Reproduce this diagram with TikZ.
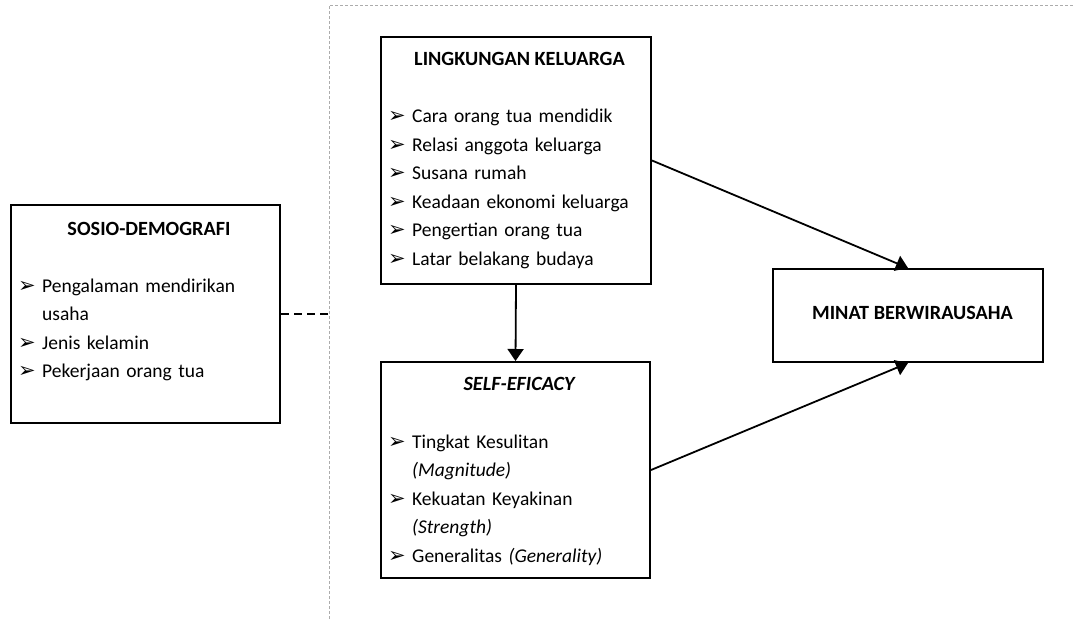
\documentclass[tikz,border=0pt]{standalone}
\usepackage{fontspec}
\setmainfont{Carlito}
\newfontfamily\dejavu{DejaVu Sans}
\usetikzlibrary{arrows.meta, positioning}

\newcommand{\bul}{{\dejavu\fontsize{21}{21}\selectfont ➢}}
\newcommand{\butir}[1]{\hangindent=24pt\hangafter=1\noindent\makebox[24pt][l]{\bul}#1\par}

\tikzset{
  kotak/.style={draw, line width=2pt, rectangle, inner sep=0pt},
  judul/.style={font=\fontsize{20.2}{22}\selectfont\bfseries, anchor=base, inner sep=0pt},
  daftar/.style={font=\fontsize{19.5}{28.6}\selectfont, text width=#1, align=left, anchor=base west, inner sep=0pt},
  panah/.style={line width=1.8pt, -{Triangle[length=12pt,width=16pt]}},
  bingkai/.style={draw=gray!65, line width=1pt, dash pattern=on 3pt off 2pt}
}

\begin{document}
\begin{tikzpicture}[x=1pt, y=-1pt]
\useasboundingbox (0,0) rectangle (1073,619);
% bingkai titik-titik
\coordinate (fb) at (329,619);
\coordinate (ft) at (329,5);
\coordinate (fr) at (1073,5);
\draw [bingkai] (fb) -- (ft) -- (fr);
% kotak-kotak
\node [kotak, minimum width=269pt, minimum height=218pt] (sosio) at (145.5,314) {};
\node [kotak, minimum width=270pt, minimum height=247pt] (keluarga) at (516,160.5) {};
\node [kotak, minimum width=269pt, minimum height=216pt] (efikasi) at (515.5,470) {};
\node [kotak, minimum width=270pt, minimum height=93pt] (minat) at (908,315.5) {};
% teks
\node [judul] (tsosio) at (149,235.5) {SOSIO-DEMOGRAFI};
\node [daftar=255pt] (dsosio) at (18,292) {%
  \butir{Pengalaman mendirikan\newline usaha}
  \butir{Jenis kelamin}
  \butir{Pekerjaan orang tua}};
\node [judul] (tkeluarga) at (519.5,65.5) {LINGKUNGAN KELUARGA};
\node [daftar=255pt] (dkeluarga) at (388,122.5) {%
  \butir{Cara orang tua mendidik}
  \butir{Relasi anggota keluarga}
  \butir{Susana rumah}
  \butir{Keadaan ekonomi keluarga}
  \butir{Pengertian orang tua}
  \butir{Latar belakang budaya}};
\node [judul, font=\fontsize{20.2}{22}\selectfont\bfseries\itshape] (tefikasi) at (519,390.5) {SELF-EFICACY};
\node [daftar=255pt] (defikasi) at (388,448) {%
  \butir{Tingkat Kesulitan\newline \textit{(Magnitude)}}
  \butir{Kekuatan Keyakinan\newline \textit{(Strength)}}
  \butir{Generalitas \textit{(Generality)}}};
\node [judul] (tminat) at (912.5,319) {MINAT BERWIRAUSAHA};
% panah
\draw [panah] (keluarga.south) -- (efikasi.north);
\draw [panah] (keluarga.east) -- (minat.north);
\draw [panah] (efikasi.east) -- (minat.south);
\coordinate (batas) at (329,314);
\draw [line width=1.5pt, dash pattern=on 8pt off 5pt] (sosio.east) -- (batas);
\end{tikzpicture}
\end{document}
